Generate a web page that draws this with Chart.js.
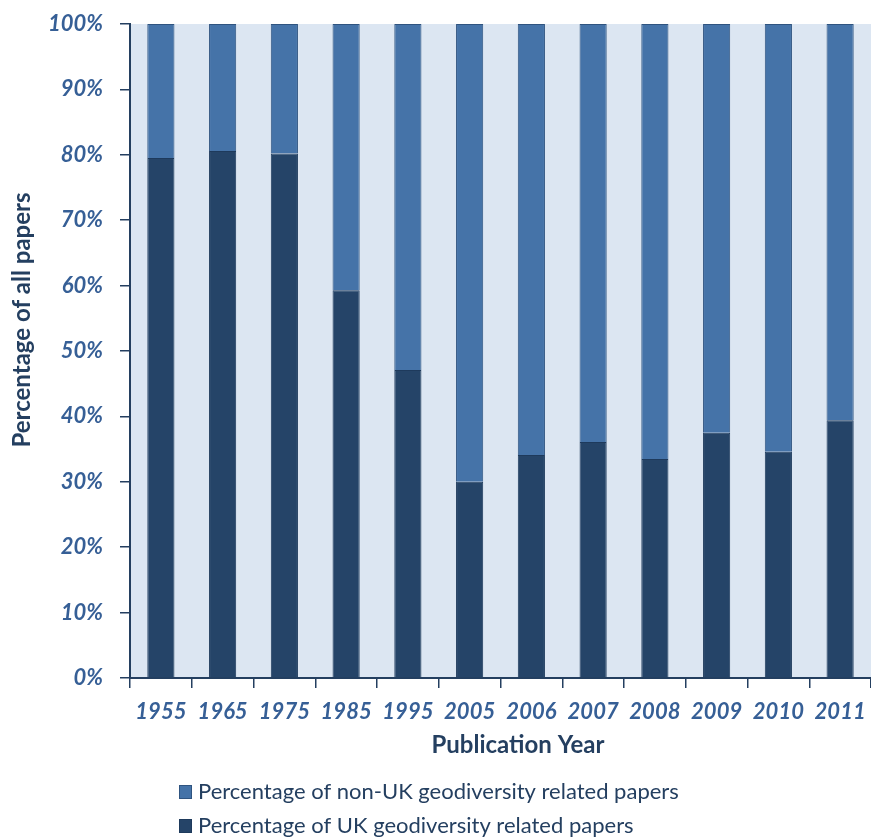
<!DOCTYPE html>
<html>
<head>
<meta charset="UTF-8">
<title>UK and non-UK geodiversity papers</title>
<script src="https://cdn.jsdelivr.net/npm/chart.js"></script>
<style>
    body {
        margin: 0;
        background: #FFFFFF;
    }
    .wrap {
        width: 871px;
        height: 838px;
    }
</style>
</head>
<body>
<div class="wrap">
    <canvas id="papers-chart" width="871" height="838"></canvas>
</div>

<script>
    // Data (share of papers per year, %)
    const years = ['1955', '1965', '1975', '1985', '1995', '2005', '2006', '2007', '2008', '2009', '2010', '2011'];
    const ukShare = [79.5, 80.6, 80.2, 59.3, 47.1, 30.0, 34.1, 36.1, 33.5, 37.5, 34.6, 39.4];
    const nonUkShare = [20.5, 19.4, 19.8, 40.7, 52.9, 70.0, 65.9, 63.9, 66.5, 62.5, 65.4, 60.6];
    const ukLabel = 'Percentage of UK geodiversity related papers';
    const nonUkLabel = 'Percentage of non-UK geodiversity related papers';
    const xTitle = 'Publication Year';
    const yTitle = 'Percentage of all papers';

    const FONT = 'Lato, "Open Sans", sans-serif';
    Chart.defaults.font.family = FONT;

    // Light blue plot area behind the bars
    const plotBg = {
        id: 'plotBg',
        beforeDraw(chart) {
            const {ctx, chartArea: a} = chart;
            ctx.save();
            ctx.fillStyle = '#DCE6F2';
            ctx.fillRect(a.left, a.top, a.right - a.left, a.bottom - a.top);
            ctx.restore();
        }
    };

    // Axis titles and the two-row legend, placed like the original
    const extras = {
        id: 'extras',
        afterDraw(chart) {
            const ctx = chart.ctx;
            ctx.save();
            ctx.fillStyle = '#243F60';
            ctx.textAlign = 'center';
            ctx.textBaseline = 'middle';
            ctx.font = 'bold 24px ' + FONT;
            ctx.fillText(xTitle, 518, 745);

            ctx.save();
            ctx.translate(22, 320);
            ctx.rotate(-Math.PI / 2);
            ctx.fillText(yTitle, 0, 0);
            ctx.restore();

            // legend lists the top series first
            const sets = chart.data.datasets.slice().reverse();
            ctx.font = '22px ' + FONT;
            ctx.textAlign = 'left';
            sets.forEach((ds, i) => {
                const y = 792 + i * 34;
                ctx.fillStyle = ds.backgroundColor;
                ctx.fillRect(179, y - 7, 13, 14);
                ctx.strokeStyle = ds.borderColor;
                ctx.lineWidth = 1;
                ctx.strokeRect(179.5, y - 6.5, 12, 13);
                ctx.fillStyle = '#243F60';
                ctx.fillText(ds.label, 198, y);
            });
            ctx.restore();
        }
    };

    const tickFont = {size: 22, weight: 'bold', style: 'italic'};

    new Chart(document.getElementById('papers-chart'), {
        type: 'bar',
        data: {
            labels: years,
            datasets: [
                {
                    label: ukLabel,
                    data: ukShare,
                    backgroundColor: '#254468',
                    borderColor: '#1E3A5C',
                    borderWidth: 1,
                    barPercentage: 0.44,
                    categoryPercentage: 1
                },
                {
                    label: nonUkLabel,
                    data: nonUkShare,
                    backgroundColor: '#4573A8',
                    borderColor: '#2F5480',
                    borderWidth: 1,
                    barPercentage: 0.44,
                    categoryPercentage: 1
                }
            ]
        },
        options: {
            responsive: false,
            animation: false,
            layout: {padding: {top: 24, right: 0, bottom: 77, left: 0}},
            plugins: {
                legend: {display: false},
                tooltip: {enabled: false}
            },
            scales: {
                x: {
                    stacked: true,
                    grid: {drawOnChartArea: false, offset: true, tickLength: 10, color: '#243F60', lineWidth: 1.5},
                    border: {display: true, color: '#243F60', width: 2},
                    ticks: {padding: 11, color: '#365F96', font: tickFont, maxRotation: 0, autoSkip: false},
                    afterFit(scale) {
                        scale.height = 83;
                        scale.paddingLeft = 0;
                        scale.paddingRight = 0;
                    }
                },
                y: {
                    stacked: true,
                    min: 0,
                    max: 100,
                    grid: {drawOnChartArea: false, tickLength: 10, color: '#243F60', lineWidth: 1.5},
                    border: {display: true, color: '#243F60', width: 2},
                    ticks: {
                        stepSize: 10,
                        padding: 17,
                        color: '#365F96',
                        font: tickFont,
                        callback: v => v + '%'
                    },
                    afterFit(scale) {
                        scale.width = 130;
                        scale.paddingTop = 0;
                        scale.paddingBottom = 0;
                    }
                }
            }
        },
        plugins: [plotBg, extras]
    });
</script>
</body>
</html>
